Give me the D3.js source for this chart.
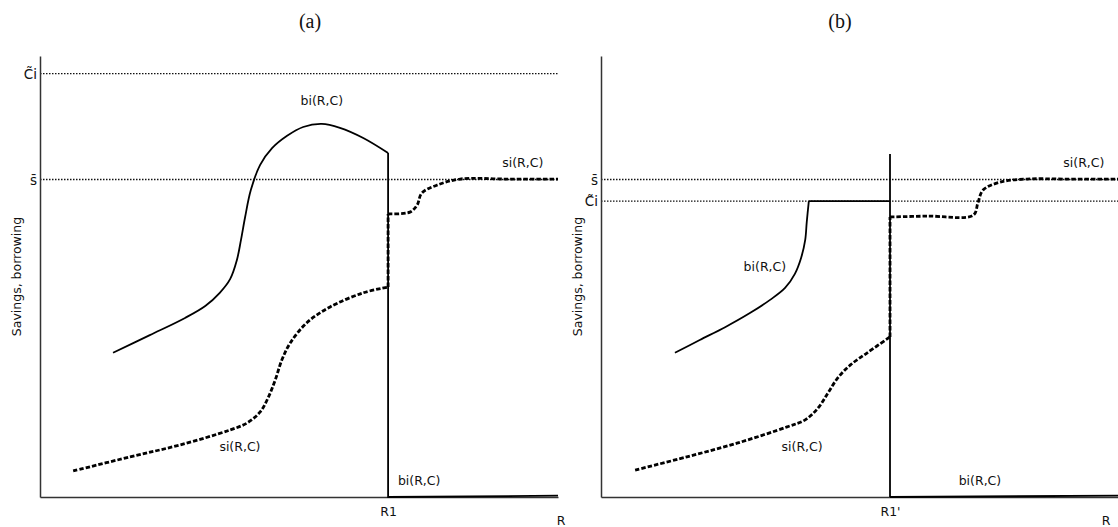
<!DOCTYPE html>
<html>
<head>
<meta charset="utf-8">
<script src="https://cdn.jsdelivr.net/npm/d3@7"></script>
<style>
  html, body { margin: 0; padding: 0; background: #fff; }
  svg { display: block; }
  .lbl { font-family: "DejaVu Sans", sans-serif; font-size: 12.5px; fill: #111; }
  .title { font-family: "Liberation Serif", serif; font-size: 20px; fill: #111; }
</style>
</head>
<body>
<svg id="chart" width="1118" height="527"></svg>
<script>
// ---------- Panel (a) ----------
const R1a = 67.2;          // threshold R1
const ciA = 96;            // C~i level
const sBarA = 72;          // s-bar level
// borrowing bi(R,C), smooth branch up to R1
const biA = [[14.1,32.7],[21.2,36.7],[28.0,40.6],[31.9,43.3],[34.7,46.3],[36.7,49.4],
             [38.0,53.7],[38.8,58.3],[39.6,63.5],[40.7,69.6],[42.5,75.3],[44.8,79.1],
             [47.7,81.9],[50.8,83.9],[54.4,84.6],[57.9,83.7],[62.4,81.4],[67.2,78.0]];
// borrowing after the drop at R1
const biAAfter = [[67.2,78.0],[67.2,0],[100,0.3]];
// savings si(R,C), below R1
const siALow = [[6.4,5.9],[17.4,9.1],[27.0,11.8],[36.7,15.2],[40.0,16.8],[42.5,19.3],
                [44.0,22.4],[45.4,26.5],[46.7,31.1],[48.3,34.9],[51.5,39.5],[56.0,43.1],
                [62.4,46.3],[67.2,47.6]];
// savings jump at R1
const siAJump = [[67.2,47.6],[67.2,64.2]];
// savings above R1
const siAHigh = [[67.2,64.2],[71.4,64.6],[72.8,66.2],[73.7,68.9],[76.6,70.7],[81.1,72.1],
                 [90,72.1],[100,72.1]];

// ---------- Panel (b) ----------
const R1b = 55.9;          // threshold R1'
const R1bTop = 77.8;       // top of the R1' marker
const ciB = 67.1;          // C~i level
const sBarB = 72;          // s-bar level
const biB = [[14.3,32.7],[19.1,35.6],[24.0,38.5],[28.8,41.7],[32.7,44.7],[35.6,47.4],
             [37.5,50.6],[38.7,54.2],[39.5,58.3],[39.8,62.4],[40.2,67.1]];
const biBCap = [[40.2,67.1],[55.9,67.1]];
const biBAfter = [[55.9,0],[100,0.3]];
const siBLow = [[6.6,6.1],[16.6,9.1],[26.3,12.2],[36.0,15.9],[39.5,17.5],[42.0,20.2],
                [43.9,23.6],[45.8,27.0],[48.2,29.9],[51.5,32.7],[55.9,36.3]];
const siBJump = [[55.9,36.3],[55.9,63.5]];
const siBHigh = [[55.9,63.5],[63.1,63.7],[72.0,63.9],[72.9,66.7],[73.9,69.6],[77.2,71.4],
                 [82.4,72.1],[90,72.1],[100,72.1]];

const svg = d3.select("#chart");

function drawPanel(cfg) {
  const x = d3.scaleLinear().domain([0, 100]).range(cfg.xRange);
  const y = d3.scaleLinear().domain([0, 100]).range([497, 56]);
  const g = svg.append("g");

  const smooth = d3.line().x(d => x(d[0])).y(d => y(d[1])).curve(d3.curveCatmullRom.alpha(0.5));
  const straight = d3.line().x(d => x(d[0])).y(d => y(d[1])).curve(d3.curveLinear);

  // dotted reference levels
  cfg.levels.forEach(v => {
    g.append("line")
      .attr("x1", x(0)).attr("x2", x(100))
      .attr("y1", y(v)).attr("y2", y(v))
      .attr("stroke", "#111").attr("stroke-width", 1.3)
      .attr("stroke-dasharray", "1.5,1.5");
  });

  // axes
  const xAxis = d3.axisBottom(x).tickValues([cfg.rMark]).tickSize(0).tickSizeOuter(0)
    .tickFormat(() => cfg.rLabel);
  const gx = g.append("g").attr("transform", `translate(0,${y(0)})`).call(xAxis);
  gx.select(".domain").attr("stroke", "#333").attr("stroke-width", 1.5);
  gx.selectAll("text").attr("class", "lbl").attr("dy", null).attr("y", 19)
    .attr("fill", "#111").style("font-size", "12.5px");

  const yAxis = d3.axisLeft(y).tickValues(cfg.levels).tickSize(0).tickSizeOuter(0)
    .tickFormat((d, i) => cfg.levelLabels[i]);
  const gy = g.append("g").attr("transform", `translate(${x(0)},0)`).call(yAxis);
  gy.select(".domain").attr("stroke", "#333").attr("stroke-width", 1.5);
  gy.selectAll("text").attr("class", "lbl").attr("x", -3).attr("dy", "0.35em")
    .attr("fill", "#111").style("font-size", "13.5px");

  // axis titles
  g.append("text").attr("class", "lbl")
    .attr("x", cfg.rTitleX).attr("y", 525).attr("text-anchor", "middle").text("R");
  g.append("text").attr("class", "lbl")
    .attr("transform", `translate(${x(0) - 19},${y(50)}) rotate(-90)`)
    .attr("text-anchor", "middle").text("Savings, borrowing");
  g.append("text").attr("class", "title")
    .attr("x", cfg.titleX).attr("y", 28).attr("text-anchor", "middle").text(cfg.title);

  // solid borrowing curves
  cfg.solidSmooth.forEach(pts => g.append("path").attr("d", smooth(pts))
    .attr("fill", "none").attr("stroke", "#000").attr("stroke-width", 1.8));
  cfg.solidStraight.forEach(pts => g.append("path").attr("d", straight(pts))
    .attr("fill", "none").attr("stroke", "#000").attr("stroke-width", 1.8));

  // dashed savings curves
  cfg.dashSmooth.forEach(pts => g.append("path").attr("d", smooth(pts))
    .attr("fill", "none").attr("stroke", "#000").attr("stroke-width", 2.8)
    .attr("stroke-dasharray", "4.5,2"));
  cfg.dashStraight.forEach(pts => g.append("path").attr("d", straight(pts))
    .attr("fill", "none").attr("stroke", "#000").attr("stroke-width", 2.8)
    .attr("stroke-dasharray", "4.5,2"));

  // curve labels
  cfg.labels.forEach(l => g.append("text").attr("class", "lbl")
    .attr("x", x(l[0])).attr("y", y(l[1])).attr("text-anchor", "middle").text(l[2]));
}

drawPanel({
  xRange: [40, 558], title: "(a)", titleX: 310, rTitleX: 561,
  levels: [ciA, sBarA], levelLabels: ["C\u0303i", "s\u0304"],
  rMark: R1a, rLabel: "R1",
  solidSmooth: [biA], solidStraight: [biAAfter],
  dashSmooth: [siALow, siAHigh], dashStraight: [siAJump],
  labels: [[54.4, 89, "bi(R,C)"], [93.2, 74.8, "si(R,C)"], [38.6, 10.4, "si(R,C)"], [73.2, 2.7, "bi(R,C)"]]
});

drawPanel({
  xRange: [601, 1118], title: "(b)", titleX: 840, rTitleX: 1106,
  levels: [sBarB, ciB], levelLabels: ["s\u0304", "C\u0303i"],
  rMark: R1b, rLabel: "R1'",
  solidSmooth: [biB], solidStraight: [biBCap, [[R1b, R1bTop], [R1b, 0]], biBAfter],
  dashSmooth: [siBLow, siBHigh], dashStraight: [siBJump],
  labels: [[93.4, 74.8, "si(R,C)"], [31.7, 51.2, "bi(R,C)"], [38.9, 10.4, "si(R,C)"], [73.3, 2.7, "bi(R,C)"]]
});
</script>
</body>
</html>
